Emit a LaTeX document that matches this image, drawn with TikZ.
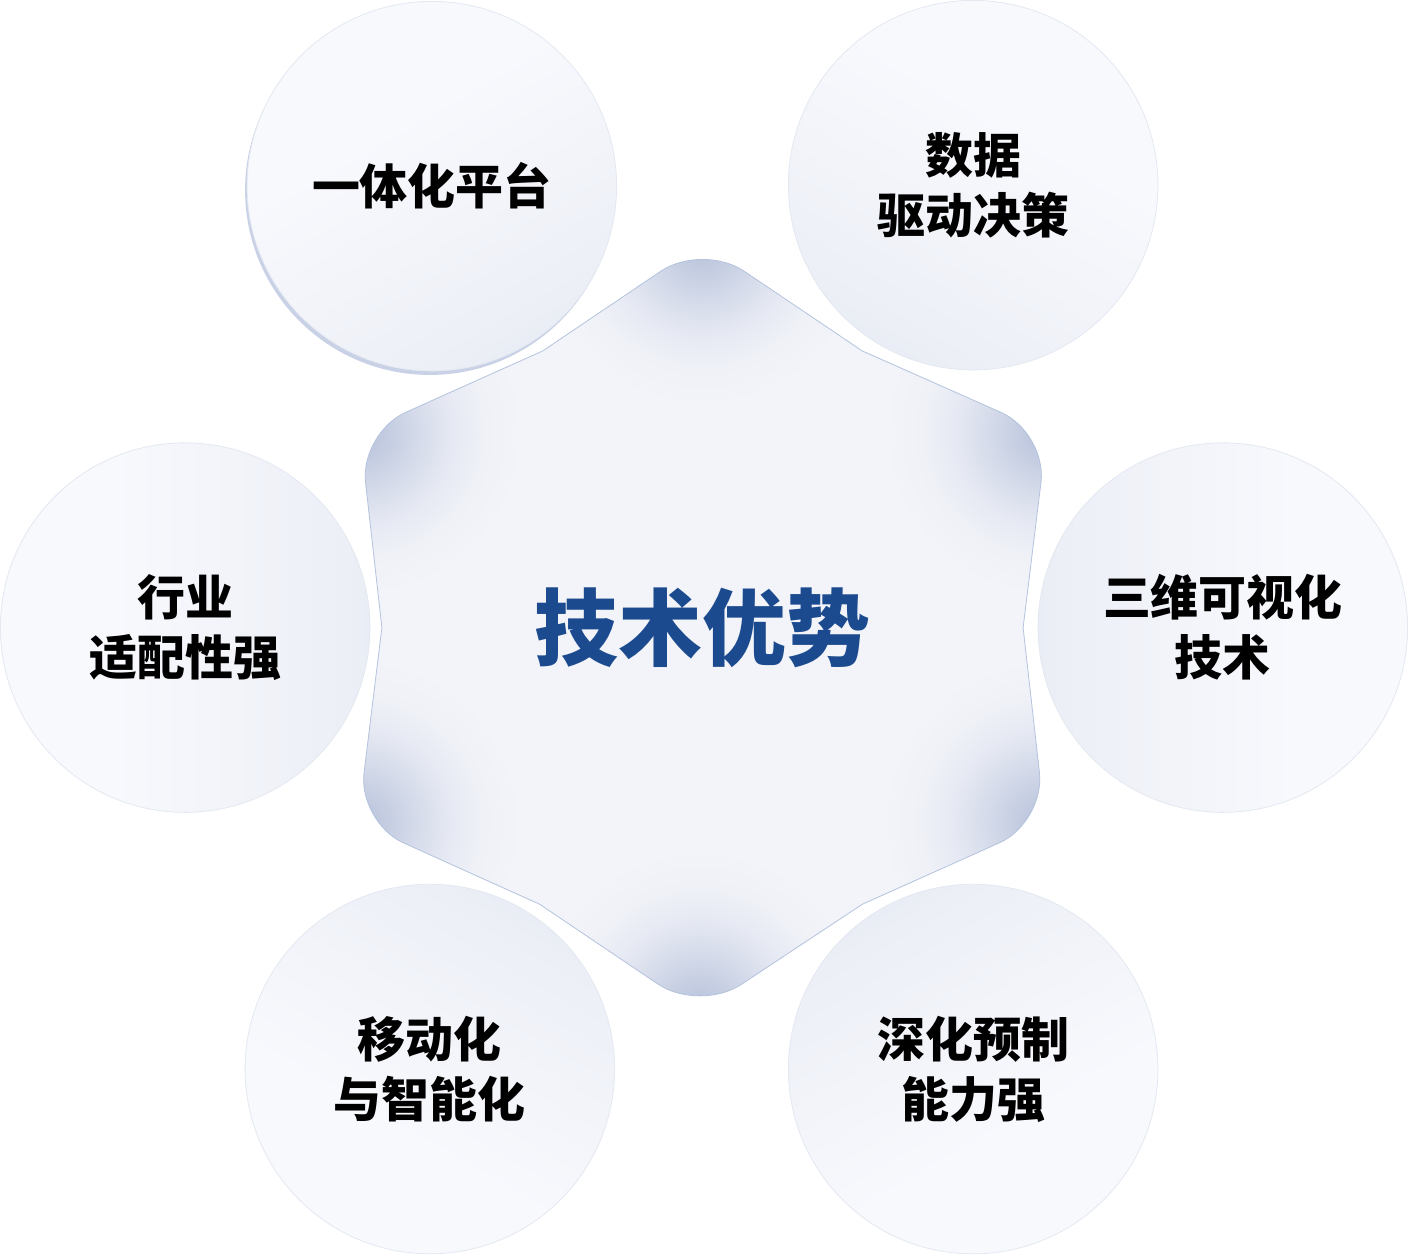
\documentclass[tikz,border=0pt]{standalone}
\usepackage{fontspec}
\newfontfamily\cjk{Noto Sans CJK SC}
\definecolor{hexA}{HTML}{F3F4F9}
\definecolor{hexB}{HTML}{EFF1F7}
\definecolor{hexC}{HTML}{E6E9F3}
\definecolor{hexD}{HTML}{D5DBEA}
\definecolor{hexE}{HTML}{BCC6DD}
\definecolor{hexF}{HTML}{A9B5D2}
\definecolor{hexline}{HTML}{B4C3DE}
\definecolor{orbL}{HTML}{F8F9FD}
\definecolor{orbM}{HTML}{ECEFF6}
\definecolor{orbD}{HTML}{D1DBE8}
\definecolor{orbline}{HTML}{E4E8F1}
\definecolor{orbshadow}{HTML}{C9D1E6}
\definecolor{titleblue}{HTML}{1B4A8E}
\pgfdeclareradialshading{cornerglow}{\pgfpoint{0bp}{0bp}}{color(0bp)=(hexF); color(2bp)=(hexE); color(9bp)=(hexD); color(14bp)=(hexC); color(19bp)=(hexB); color(25bp)=(hexA); color(50bp)=(hexA)}
\pgfdeclareverticalshading{orbsh}{100bp}{color(0bp)=(orbD); color(28bp)=(orbM); color(60bp)=(orbL); color(100bp)=(orbL)}
\newcommand\hexpathcmd{(kUL) [rounded corners=50pt] -- (vT) [sharp corners] -- (kUR) [rounded corners=50pt] -- (vUR) [sharp corners] -- (kR) [rounded corners=50pt] -- (vLR) [sharp corners] -- (kLR) [rounded corners=50pt] -- (vB) [sharp corners] -- (kLL) [rounded corners=50pt] -- (vLL) [sharp corners] -- (kL) [rounded corners=50pt] -- (vUL) [sharp corners] -- cycle}
\begin{document}
\begin{tikzpicture}[x=1pt,y=-1pt,
  orb/.style={circle, minimum size=370pt, inner sep=0pt, draw=orbline, line width=0.8pt,
    shading=orbsh, align=center, text=black,
    font=\cjk\bfseries\fontsize{48pt}{60pt}\selectfont},
  titletext/.style={text=titleblue, font=\cjk\bfseries\fontsize{84pt}{90pt}\selectfont},
  hexstroke/.style={draw=hexline, line width=0.8pt},
  glow/.style={shading=cornerglow}]
\fill[white] (0,0) rectangle (1408,1255);
% hexagon geometry
\coordinate (C) at (703,628);
\coordinate (vT) at (703,243);
\coordinate (vUR) at (1048,433);
\coordinate (vLR) at (1046,823);
\coordinate (vB) at (700,1013);
\coordinate (vLL) at (358,823);
\coordinate (vUL) at (360,433);
\coordinate (kUR) at (863,351);
\coordinate (kR) at (1024,628);
\coordinate (kLR) at (863,905);
\coordinate (kLL) at (540,905);
\coordinate (kL) at (382,628);
\coordinate (kUL) at (543,351);
% circles
\fill[orbshadow] (430,190) circle[radius=185pt];
\node[orb, shading angle=30]  (c1) at (432,186)  {一体化平台};
\node[orb, shading angle=-30] (c2) at (974,185)  {数据\\驱动决策};
\node[orb, shading angle=90]  (c3) at (185,628)  {行业\\适配性强};
\node[orb, shading angle=-90] (c4) at (1224,628) {三维可视化\\技术};
\node[orb, shading angle=150] (c5) at (430,1070) {移动化\\与智能化};
\node[orb, shading angle=-150](c6) at (974,1070) {深化预制\\能力强};
% hexagon
\begin{scope}
  \clip \hexpathcmd;
  \fill[hexA] (300,200) rectangle (1100,1060);
  \foreach \v in {vT,vUR,vLR,vB,vLL,vUL}
    \shade[glow] (\v) circle[radius=165pt];
\end{scope}
\path[hexstroke] \hexpathcmd;
\node[titletext] (title) at (C) {技术优势};
\end{tikzpicture}
\end{document}
